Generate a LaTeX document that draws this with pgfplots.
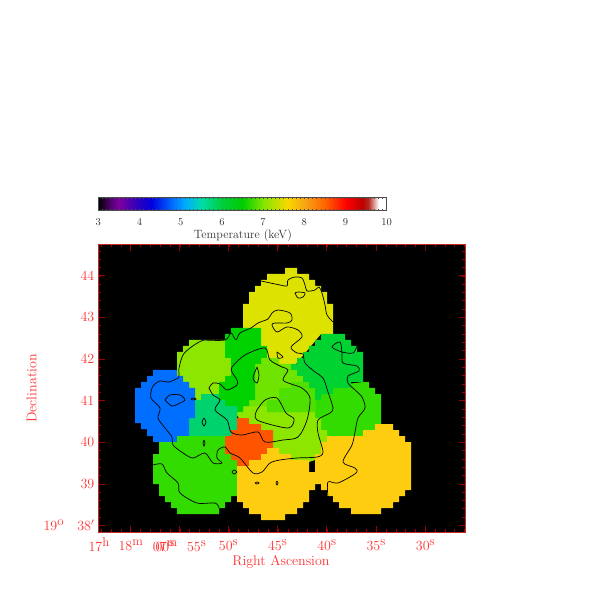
\documentclass[border=0pt]{standalone}
\usepackage{pgfplots}
\pgfplotsset{compat=1.18}
\definecolor{cA}{RGB}{222,226,0}
\definecolor{cB}{RGB}{140,230,0}
\definecolor{cC}{RGB}{0,110,255}
\definecolor{cD}{RGB}{0,210,110}
\definecolor{cE}{RGB}{50,220,0}
\definecolor{cF}{RGB}{255,85,0}
\definecolor{cG}{RGB}{255,205,15}
\definecolor{cH}{RGB}{0,210,0}
\definecolor{cI}{RGB}{0,210,50}
\definecolor{cJ}{RGB}{110,228,0}
\definecolor{cK}{RGB}{80,224,0}
\definecolor{axred}{RGB}{200,40,40}
\pgfplotsset{
  region/.style={fill=#1,draw=none,no markers},
  contour/.style={black,line width=0.7pt,smooth,tension=0.5,no markers},
  colormap={temp}{rgb255(0pt)=(0,0,0); rgb255(30pt)=(80,0,110); rgb255(50pt)=(125,0,160);
    rgb255(100pt)=(40,0,190); rgb255(130pt)=(0,0,225); rgb255(180pt)=(0,110,255); rgb255(210pt)=(0,170,255);
    rgb255(250pt)=(0,220,170); rgb255(300pt)=(0,205,60); rgb255(350pt)=(0,205,0); rgb255(400pt)=(130,230,0);
    rgb255(460pt)=(250,215,0); rgb255(500pt)=(245,165,20); rgb255(550pt)=(255,100,0); rgb255(600pt)=(255,0,0);
    rgb255(640pt)=(190,0,0); rgb255(655pt)=(180,40,30); rgb255(680pt)=(255,255,255); rgb255(700pt)=(255,255,255)},
}
\newcommand{\redtext}{\fontsize{14}{14}\selectfont\color{red!80}}
\newcommand{\up}[1]{\raisebox{5pt}{\fontsize{13}{13}\selectfont #1}}
\begin{document}
\begin{tikzpicture}[x=1pt,y=1pt]
\path[use as bounding box] (0,0) rectangle (599,599);

% colour bar
\begin{axis}[
  at={(98.3pt,388.3pt)},anchor=south west,
  scale only axis,width=288.4pt,height=13.4pt,
  view={0}{90},
  xmin=3,xmax=10,ymin=0,ymax=1,
  xtick={3,...,10},minor x tick num=9,ytick=\empty,
  tick align=inside,major tick length=2pt,minor tick length=1.5pt,
  tick style={black!70,line width=0.4pt},
  axis line style={black!70,line width=0.5pt},
  axis on top,
  xticklabel pos=lower,
  xticklabels={3,4,5,6,7,8,9,10},
  xticklabel style={anchor=base,yshift=-15pt,text=black!80,font=\fontsize{10.5}{10.5}\selectfont},
  colormap name=temp,
  clip mode=individual,
]
\addplot3[surf,shader=interp,point meta=x] coordinates {
  (3,0,0) (10,0,0)

  (3,1,0) (10,1,0)
};
\node[anchor=base,text=black!80,font=\fontsize{12}{12}\selectfont] at (axis cs:6.51,-2.05) {Temperature (keV)};
\end{axis}

% temperature map, coordinates are image columns and rows
\begin{axis}[
  at={(98pt,66.7pt)},anchor=south west,
  scale only axis,width=367pt,height=288pt,
  xmin=98,xmax=465,ymin=244.3,ymax=532.3,y dir=reverse,
  axis background/.style={fill=black},
  axis line style={axred,line width=0.8pt},
  tick align=inside,
  major tick length=6.5pt,minor tick length=3.2pt,
  tick style={red!60!black,line width=0.5pt},
  xtick={130.7,179.3,228.3,277.5,326.7,376,425.3},
  xticklabels={18\up{m},,50\up{s},45\up{s},40\up{s},35\up{s},30\up{s}},
  minor xtick={101.2,111.02,...,465},
  ytick={275.7,317.3,359,400.7,442.3,484.3,525.7},
  yticklabels={44,43,42,41,40,39,{19\up{o}\ \ \ 38$'$}},
  minor ytick={250.8,259.12,...,532},
  xticklabel pos=lower,yticklabel pos=left,
  xticklabel style={anchor=base,yshift=-18.5pt,font=\redtext},
  yticklabel style={anchor=east,inner sep=0pt,xshift=-3.5pt,font=\redtext},
  clip mode=individual,
  axis on top,
]
% dome
\addplot[region=cA] coordinates {(285,268)(297,268)(297,274)(309,274)(309,280)(315,280)(315,286)(321,286)(321,292)(327,292)(327,304)(333,304)(333,334)(321,334)(291,370)(261,370)(261,328)(243,328)(243,304)(249,304)(249,292)(255,292)(255,286)(261,286)(261,280)(267,280)(267,274)(285,274)} -- cycle;
% right green
\addplot[region=cE] coordinates {(315,388)(363,382)(369,382)(369,388)(375,388)(375,394)(381,394)(381,424)(375,424)(375,430)(363,430)(363,436)(327,436)(327,430)(321,430)(321,418)(315,418)} -- cycle;
% light green, upper left and centre
\addplot[region=cB] coordinates {(177,352)(183,352)(183,346)(189,346)(189,340)(225,340)(225,358)(267,358)(315,388)(315,418)(321,418)(321,430)(327,430)(327,442)(321,442)(321,454)(315,454)(315,460)(300,465)(275,452)(270,440)(255,435)(243,425)(237,415)(237,406)(219,400)(195,400)(195,388)(189,388)(189,382)(183,382)(183,376)(177,376)} -- cycle;
% centre bright
\addplot[region=cJ] coordinates {(255,364)(261,364)(261,358)(279,358)(279,364)(291,364)(291,370)(297,370)(297,376)(303,376)(303,382)(309,382)(309,388)(315,388)(315,412)(267,412)(267,406)(243,406)(249,400)(255,400)} -- cycle;
\addplot[region=cK] coordinates {(279,388)(291,388)(291,382)(303,382)(303,377)(309,382)(309,388)(315,388)(315,412)(267,412)(267,400)(279,400)} -- cycle;
% dark green
\addplot[region=cH] coordinates {(231,328)(261,328)(261,346)(267,346)(267,358)(261,358)(261,364)(255,364)(255,400)(249,400)(249,406)(243,406)(243,412)(237,412)(237,406)(225,406)(225,400)(219,400)(219,382)(225,382)(225,376)(231,376)(231,358)(225,358)(225,334)(231,334)} -- cycle;
\addplot[region=cI] coordinates {(321,334)(345,334)(345,340)(351,340)(351,346)(357,346)(357,352)(363,352)(363,382)(351,382)(351,388)(333,388)(333,394)(321,394)(321,400)(315,400)(315,388)(309,388)(309,382)(303,382)(303,376)(297,376)(297,370)(291,370)(291,364)(297,364)(297,358)(303,358)(303,352)(309,352)(309,346)(315,346)(315,340)(321,340)} -- cycle;
% teal
\addplot[region=cD] coordinates {(201,394)(219,394)(219,400)(225,400)(225,406)(237,406)(237,436)(189,436)(189,418)(195,418)(195,400)(201,400)} -- cycle;
% blue
\addplot[region=cC] coordinates {(153,370)(177,370)(177,376)(183,376)(183,382)(189,382)(189,388)(195,388)(195,418)(189,418)(189,436)(177,436)(177,442)(153,442)(153,436)(147,436)(147,429)(141,429)(141,423)(135,423)(135,388)(141,388)(141,382)(147,382)(147,376)(153,376)} -- cycle;
% lower left green
\addplot[region=cE] coordinates {(177,436)(225,436)(225,454)(231,454)(231,460)(237,460)(237,496)(231,496)(231,502)(225,502)(225,508)(219,508)(219,514)(177,514)(177,508)(171,508)(171,502)(165,502)(165,496)(159,496)(159,484)(153,484)(153,454)(159,454)(159,442)(177,442)} -- cycle;
% orange
\addplot[region=cF] coordinates {(237,418)(249,418)(249,424)(261,424)(261,430)(273,430)(273,448)(267,448)(267,454)(261,454)(261,460)(249,460)(249,466)(237,466)(237,460)(231,460)(231,454)(225,454)(225,436)(231,436)(231,430)(237,430)} -- cycle;
% yellow
\addplot[region=cG] coordinates {(237,466)(249,466)(249,460)(261,460)(261,454)(267,454)(267,448)(279,448)(279,454)(291,454)(291,460)(309,460)(309,472)(315,472)(315,454)(321,454)(321,442)(327,442)(327,436)(363,436)(363,430)(375,430)(375,424)(393,424)(393,430)(399,430)(399,436)(405,436)(405,442)(411,442)(411,490)(405,490)(405,496)(399,496)(399,502)(393,502)(393,508)(381,508)(381,514)(351,514)(351,508)(339,508)(339,502)(333,502)(333,496)(327,496)(327,490)(321,490)(321,484)(315,484)(315,490)(309,490)(309,502)(303,502)(303,508)(297,508)(297,514)(285,514)(285,520)(261,520)(261,514)(249,514)(249,508)(243,508)(243,502)(237,502)} -- cycle;

% contours
\addplot[contour] coordinates {(204,340)(225,340)(231,333)(236,340)(240,333)(251,328)(258,323)(268,319)(272,313)(278,310)(290,313)(292,320)(287,323)(275,323)(272,325)(277,332)(287,327)(298,330)(302,337)(291,347)(297,353)(303,354)(305,363)(315,372)(323,378)(328,392)(333,408)(330,413)(318,420)(318,433)(323,452)(317,457)(297,458)(280,460)(270,463)(262,472)(253,473)(240,458)(230,453)(225,447)(218,450)(217,458)(222,463)(213,463)(205,453)(193,458)(183,453)(173,445)(172,437)(165,428)(158,418)(160,408)(151,398)(152,388)(155,384)(160,381)(169,382)(176,379)(179,377)(179,368)(183,355)(190,348)(199,342)(204,340)};
\addplot[contour] coordinates {(209,388)(213,383)(220,384)(227,390)(237,385)(237,380)(232,372)(232,367)(245,355)(265,348)(270,360)(282,367)(288,370)(283,380)(294,385)(302,388)(310,398)(307,420)(298,437)(283,440)(265,442)(258,432)(242,435)(231,432)(227,420)(215,410)(220,400)(213,395)(209,388)};
\addplot[contour] coordinates {(257,410)(265,400)(277,398)(286,413)(294,419)(288,428)(257,420)(257,410)};
\addplot[contour] coordinates {(261,281)(280,285)(287,286)(288,280)(295,277)(302,278)(305,285)(307,291)(315,290)(319,287)(322,293)(325,305)(327,315)(333,322)};
\addplot[contour] coordinates {(357,346)(353,353)(342,352)(332,347)(340,342)(342,353)(343,363)(357,366)(359,371)(348,376)(348,383)(355,390)(362,397)(365,408)(358,418)(355,432)(352,445)(343,462)(355,468)(356,473)(338,483)(328,482)(328,497)};
\addplot[contour] coordinates {(153,465)(162,464)(167,473)(178,483)(180,493)(197,503)(215,503)(219,508)};
\addplot[contour] coordinates {(257,367)(253,378)(257,383)(259,375)(257,367)};
\addplot[contour] coordinates {(277,352)(283,357)(278,358)(277,352)};
\addplot[contour] coordinates {(295,293)(298,292)(305,293)(303,297)(298,298)(295,293)};
\addplot[contour] coordinates {(165,400)(170,395)(180,395)(185,400)(180,403)(172,406)(165,400)};
\addplot[contour] coordinates {(191,399)(193,398)(196,399)(193,400)(191,399)};
\addplot[contour] coordinates {(204,418)(206,422)(204,426)(202,422)(204,418)};
\addplot[contour] coordinates {(204,440)(205,443)(204,446)(203,443)(204,440)};
\addplot[contour] coordinates {(232,472)(234,470)(237,472)(234,474)(232,472)};
\addplot[contour] coordinates {(255,483)(257,482)(259,483)(257,484)(255,483)};
\addplot[contour] coordinates {(277,481)(278,483)(277,485)(276,483)(277,481)};

% tick labels that do not sit on a tick
\node[anchor=base,font=\redtext] at (axis cs:99,551) {17\up{h}};
\node[anchor=base,font=\redtext] at (axis cs:165,551) {00\up{s}};
\node[anchor=base,font=\redtext] at (axis cs:165,551) {07\up{m}};
\node[anchor=base,font=\redtext] at (axis cs:196.5,551) {55\up{s}};
\node[anchor=center,font=\redtext] at (axis cs:281,561.7) {Right Ascension};
\node[anchor=center,rotate=90,font=\redtext] at (axis cs:31.7,388.5) {Declination};
\end{axis}
\end{tikzpicture}
\end{document}
